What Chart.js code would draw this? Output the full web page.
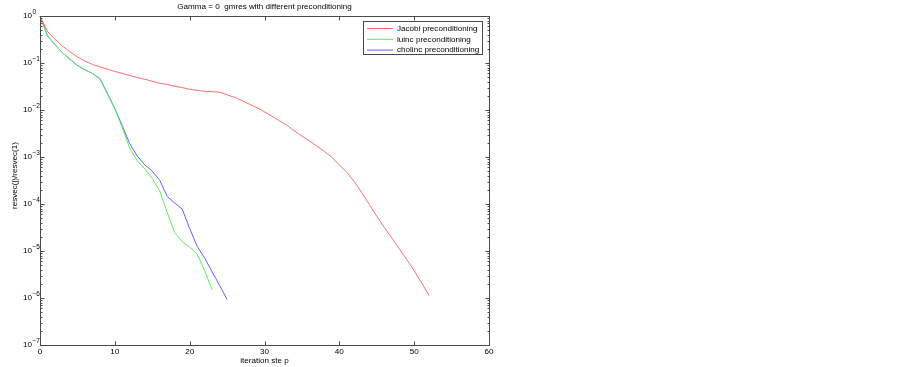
<!DOCTYPE html>
<html lang="en">
<head>
    <meta charset="UTF-8">
    <title>Gamma = 0 gmres with different preconditioning</title>
    <script src="https://cdn.jsdelivr.net/npm/chart.js"></script>
    <style>
        body {
            margin: 0;
            padding: 0;
            background: #ffffff;
        }

        #wrap {
            width: 902px;
            height: 367px;
        }
    </style>
</head>
<body>
    <div id="wrap">
        <canvas id="myChart" width="902" height="367"></canvas>
    </div>

<script>
// values, one per iteration step (starting at step 0)
const jacobi = [
    1, 4.7e-1, 3.2e-1, 2.3e-1, 1.74e-1, 1.35e-1, 1.1e-1, 9.3e-2, 8.3e-2, 7.4e-2,
    6.6e-2, 6.0e-2, 5.4e-2, 4.9e-2, 4.5e-2, 4.1e-2, 3.7e-2, 3.5e-2, 3.2e-2, 3.0e-2,
    2.75e-2, 2.6e-2, 2.5e-2, 2.45e-2, 2.4e-2, 2.1e-2, 1.86e-2, 1.58e-2, 1.32e-2, 1.12e-2,
    9.1e-3, 7.4e-3, 5.9e-3, 4.7e-3, 3.6e-3, 2.8e-3, 2.2e-3, 1.7e-3, 1.32e-3, 9.8e-4,
    6.8e-4, 4.7e-4, 3.0e-4, 1.74e-4, 9.8e-5, 5.5e-5, 3.2e-5, 1.9e-5, 1.12e-5, 6.6e-6,
    3.8e-6, 2.1e-6, 1.12e-6
];
const luinc = [
    1, 3.8e-1, 2.45e-1, 1.66e-1, 1.2e-1, 8.9e-2, 7.2e-2, 6.0e-2, 4.6e-2, 2.2e-2,
    1.05e-2, 4.2e-3, 1.5e-3, 8.3e-4, 5.6e-4, 3.5e-4, 1.9e-4, 6.6e-5, 2.45e-5, 1.58e-5,
    1.2e-5, 8.7e-6, 3.8e-6, 1.5e-6
];
const cholinc = [
    1, 3.8e-1, 2.45e-1, 1.66e-1, 1.2e-1, 8.9e-2, 7.2e-2, 6.0e-2, 4.7e-2, 2.3e-2,
    1.07e-2, 4.6e-3, 1.9e-3, 1.05e-3, 6.8e-4, 5.0e-4, 3.2e-4, 1.45e-4, 1.05e-4, 7.8e-5,
    3.0e-5, 1.26e-5, 7.1e-6, 3.6e-6, 1.86e-6, 9.3e-7
];

const seriesNames = ['Jacobi preconditioning', 'luinc preconditioning', 'cholinc preconditioning'];
const seriesColors = ['#ff6b6b', '#5cec5c', '#6060ff'];

const xTicks = [0, 10, 20, 30, 40, 50, 60];
const yTicks = [1e-7, 1e-6, 1e-5, 1e-4, 1e-3, 1e-2, 1e-1, 1];

const titleText = 'Gamma = 0  gmres with different preconditioning';
const xTitle = 'iteration ste p';
const yTitle = 'resvec(j)/resvec(1)';

const FONT = '"Liberation Sans", Arial, sans-serif';
const FS = '8.1px ';

function toPoints(arr) {
    return arr.map((v, i) => ({ x: i, y: v }));
}

// MATLAB style box, inward ticks, tick labels and titles
const axesPlugin = {
    id: 'matlabAxes',
    afterDraw(chart) {
        const { ctx, chartArea: a, scales: { x, y } } = chart;
        ctx.save();
        ctx.strokeStyle = '#4a4a4a';
        ctx.lineWidth = 1;
        const L = Math.round(a.left) + 0.5, R = Math.round(a.right) + 0.5;
        const T = Math.round(a.top) + 0.5, B = Math.round(a.bottom) + 0.5;
        ctx.strokeRect(L, T, R - L, B - T);

        ctx.beginPath();
        xTicks.forEach(v => {
            const px = Math.round(x.getPixelForValue(v)) + 0.5;
            ctx.moveTo(px, B); ctx.lineTo(px, B - 4);
            ctx.moveTo(px, T); ctx.lineTo(px, T + 4);
        });
        yTicks.forEach((v, i) => {
            const py = Math.round(y.getPixelForValue(v)) + 0.5;
            ctx.moveTo(L, py); ctx.lineTo(L + 4, py);
            ctx.moveTo(R, py); ctx.lineTo(R - 4, py);
            if (i < yTicks.length - 1) {
                for (let m = 2; m <= 9; m++) {
                    const pm = Math.round(y.getPixelForValue(v * m)) + 0.5;
                    ctx.moveTo(L, pm); ctx.lineTo(L + 2, pm);
                    ctx.moveTo(R, pm); ctx.lineTo(R - 2, pm);
                }
            }
        });
        ctx.stroke();

        ctx.fillStyle = '#000';
        ctx.font = FS + FONT;
        ctx.textAlign = 'center';
        ctx.textBaseline = 'middle';
        xTicks.forEach(v => {
            ctx.fillText(String(v), x.getPixelForValue(v), 352);
        });

        yTicks.forEach(v => {
            const py = y.getPixelForValue(v);
            const exp = String(Math.round(Math.log10(v))).replace('-', '\u2212');
            ctx.textAlign = 'left';
            ctx.font = FS + FONT;
            ctx.fillText('10', 23, py);
            const w = ctx.measureText('10').width;
            ctx.font = '6.5px ' + FONT;
            ctx.fillText(exp, 23 + w + 0.5, py - 3.5);
        });

        ctx.font = FS + FONT;
        ctx.textAlign = 'center';
        ctx.fillText(titleText, (a.left + a.right) / 2, 7);
        ctx.fillText(xTitle, (a.left + a.right) / 2, 361);

        ctx.translate(15, (a.top + a.bottom) / 2 - 5);
        ctx.rotate(-Math.PI / 2);
        ctx.fillText(yTitle, 0, 0);
        ctx.restore();
    }
};

// legend box in the upper right corner of the axes
const legendPlugin = {
    id: 'boxLegend',
    afterDraw(chart) {
        const ctx = chart.ctx;
        const left = 363.5, top = 21.5, w = 119, h = 33;
        ctx.save();
        ctx.fillStyle = '#fff';
        ctx.fillRect(left, top, w, h);
        ctx.strokeStyle = '#4a4a4a';
        ctx.lineWidth = 1;
        ctx.strokeRect(left, top, w, h);
        ctx.font = FS + FONT;
        ctx.textBaseline = 'middle';
        ctx.textAlign = 'left';
        chart.data.datasets.forEach((ds, i) => {
            const yy = 28.5 + i * 10.8;
            ctx.strokeStyle = ds.borderColor;
            ctx.beginPath();
            ctx.moveTo(367, yy);
            ctx.lineTo(393, yy);
            ctx.stroke();
            ctx.fillStyle = '#000';
            ctx.fillText(ds.label, 397, yy);
        });
        ctx.restore();
    }
};

const ctx = document.getElementById('myChart').getContext('2d');
new Chart(ctx, {
    type: 'line',
    data: {
        datasets: [jacobi, luinc, cholinc].map((arr, i) => ({
            label: seriesNames[i],
            data: toPoints(arr),
            borderColor: seriesColors[i],
            borderWidth: 1,
            pointRadius: 0,
            tension: 0,
            fill: false,
            clip: false
        }))
    },
    options: {
        responsive: false,
        animation: false,
        events: [],
        layout: {
            padding: { left: 40, right: 413, top: 16, bottom: 22 }
        },
        plugins: {
            legend: { display: false },
            title: { display: false },
            tooltip: { enabled: false }
        },
        scales: {
            x: {
                type: 'linear',
                display: false,
                min: 0,
                max: 60
            },
            y: {
                type: 'logarithmic',
                display: false,
                min: 1e-7,
                max: 1
            }
        }
    },
    plugins: [axesPlugin, legendPlugin]
});
</script>
</body>
</html>
